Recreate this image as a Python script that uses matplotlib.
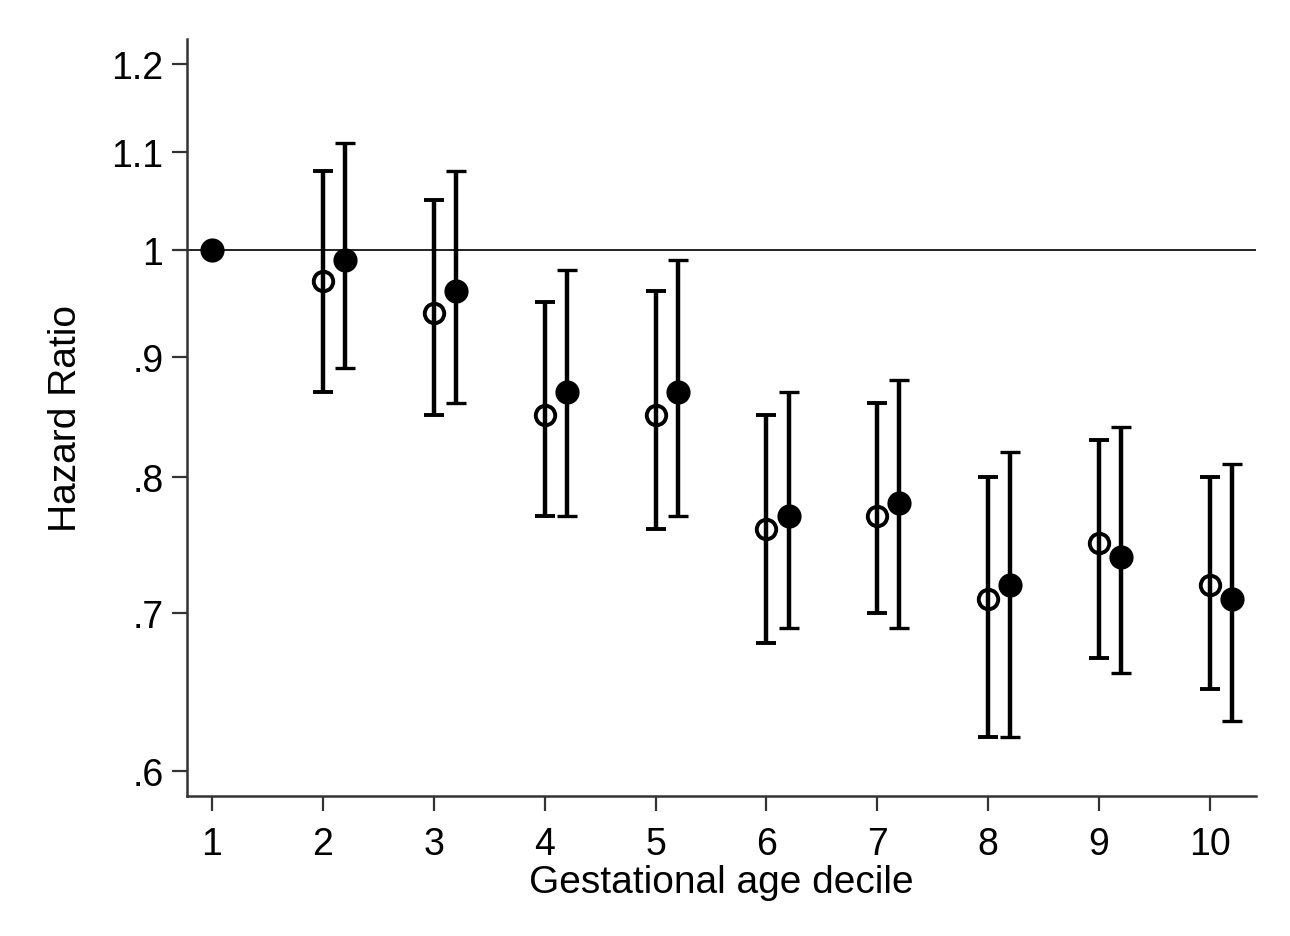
import numpy as np
import matplotlib.pyplot as plt
from matplotlib.ticker import FixedLocator, NullLocator

plt.rcParams['font.family'] = ['Liberation Sans', 'DejaVu Sans']

# hazard ratios by gestational age decile (log scale)
decile = [1, 2, 3, 4, 5, 6, 7, 8, 9, 10]

# open circles (model 1), decile 1 is the reference
hr_open = [0.97, 0.94, 0.85, 0.85, 0.76, 0.77, 0.71, 0.75, 0.72]
lo_open = [0.87, 0.85, 0.77, 0.76, 0.68, 0.70, 0.62, 0.67, 0.65]
hi_open = [1.08, 1.05, 0.95, 0.96, 0.85, 0.86, 0.80, 0.83, 0.80]

# filled circles (model 2)
hr_fill = [0.99, 0.96, 0.87, 0.87, 0.77, 0.78, 0.72, 0.74, 0.71]
lo_fill = [0.89, 0.86, 0.77, 0.77, 0.69, 0.69, 0.62, 0.66, 0.63]
hi_fill = [1.11, 1.08, 0.98, 0.99, 0.87, 0.88, 0.82, 0.84, 0.81]

ref_hr = 1.0
yticks = [0.6, 0.7, 0.8, 0.9, 1.0, 1.1, 1.2]
ytick_labels = ['.6', '.7', '.8', '.9', '1', '1.1', '1.2']

fig = plt.figure(figsize=(12.9, 9.37), dpi=100)
ax = fig.add_axes([0.145, 0.149, 0.829, 0.808])

ax.axhline(ref_hr, color='#222222', lw=1.4, zorder=1)

x_open = np.array(decile[1:])
x_fill = x_open + 0.2
hr_open = np.array(hr_open)
hr_fill = np.array(hr_fill)
err_open = [hr_open - np.array(lo_open), np.array(hi_open) - hr_open]
err_fill = [hr_fill - np.array(lo_fill), np.array(hi_fill) - hr_fill]

ax.errorbar(x_open, hr_open, yerr=err_open, fmt='o', ms=14, mfc='none',
            mec='black', mew=2.8, ecolor='black', elinewidth=3.2,
            capsize=7.5, capthick=3.2, color='black', zorder=3)
ax.errorbar(x_fill, hr_fill, yerr=err_fill, fmt='o', ms=15, mfc='black',
            mec='black', mew=2.4, ecolor='black', elinewidth=3.2,
            capsize=7.5, capthick=3.2, color='black', zorder=3)
ax.plot([decile[0]], [ref_hr], 'o', ms=15, color='black', mew=2.4, zorder=4)

ax.set_yscale('log')
ax.set_ylim(0.585, 1.229)
ax.set_xlim(0.775, 10.42)
ax.yaxis.set_major_locator(FixedLocator(yticks))
ax.yaxis.set_minor_locator(NullLocator())
ax.set_yticklabels(ytick_labels)
ax.set_xticks(decile)

for s in ['top', 'right']:
    ax.spines[s].set_visible(False)
for s in ['left', 'bottom']:
    ax.spines[s].set_linewidth(1.8)
    ax.spines[s].set_color('#333333')

ax.tick_params(axis='both', length=11, width=1.6, color='#333333',
               labelsize=27)
ax.tick_params(axis='x', pad=10)
ax.tick_params(axis='y', pad=6)
ax.set_xlabel('Gestational age decile', fontsize=28, labelpad=2)
ax.set_ylabel('Hazard Ratio', fontsize=28, labelpad=20)

fig.savefig('out.png', dpi=100)
